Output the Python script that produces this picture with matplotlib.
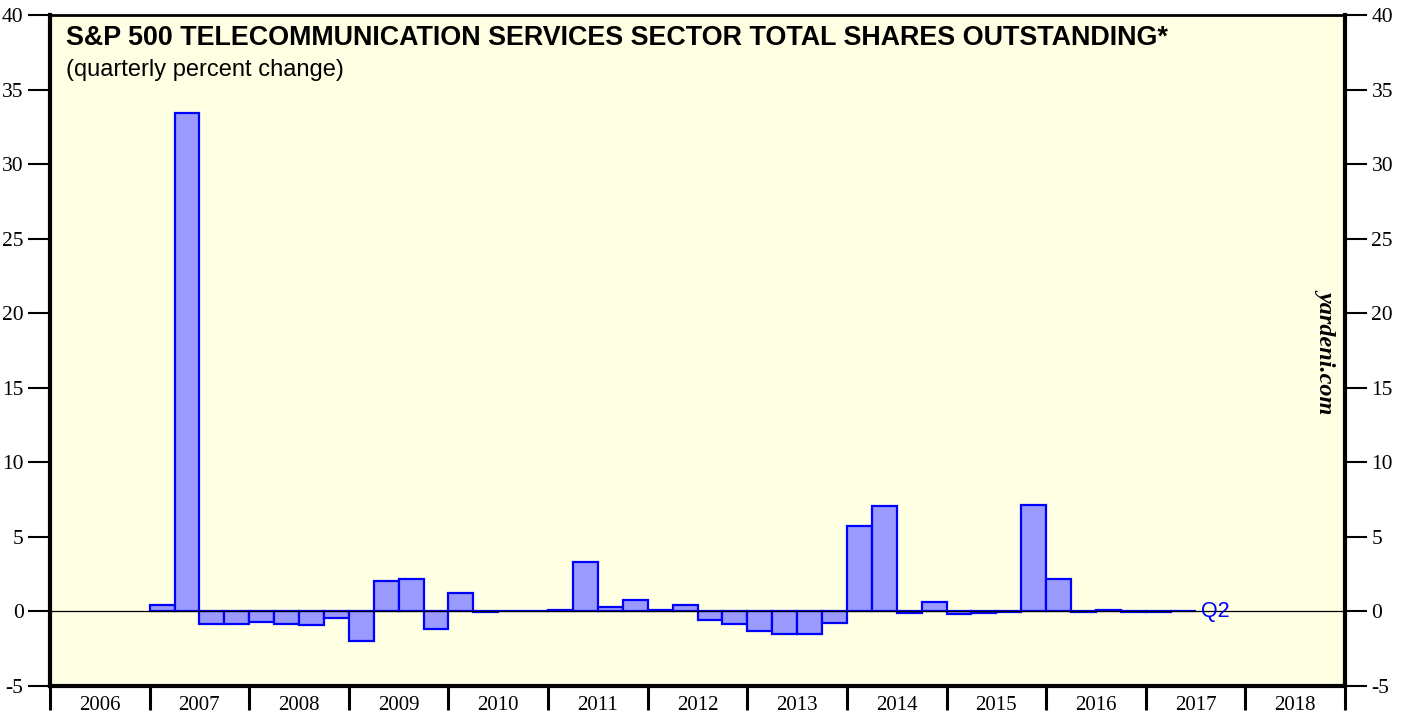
import numpy as np
import matplotlib

matplotlib.use("Agg")
import matplotlib.pyplot as plt

# quarterly percent change, 2007Q1 .. 2017Q2
start_year = 2007
pct_change = [
    0.4, 33.4, -0.85, -0.85,      # 2007
    -0.7, -0.85, -0.9, -0.45,     # 2008
    -1.95, 2.05, 2.2, -1.2,       # 2009
    1.25, -0.05, 0.05, 0.05,      # 2010
    0.1, 3.3, 0.3, 0.75,          # 2011
    0.07, 0.43, -0.55, -0.85,     # 2012
    -1.3, -1.5, -1.5, -0.75,      # 2013
    5.7, 7.1, -0.1, 0.6,          # 2014
    -0.18, -0.13, -0.03, 7.15,    # 2015
    2.2, -0.05, 0.07, -0.02,      # 2016
    -0.02, 0.06,                  # 2017
]
year_labels = [str(y) for y in range(2006, 2019)]
y_ticks = [-5, 0, 5, 10, 15, 20, 25, 30, 35, 40]

BG = "#ffffe3"
FILL = "#9b9bff"
EDGE = "#0000ff"
SERIF = ["Liberation Serif", "DejaVu Serif"]
SANS = ["Liberation Sans", "DejaVu Sans"]

fig = plt.figure(figsize=(14.05, 7.17), dpi=100)
ax = fig.add_axes([50 / 1405, 31 / 717, 1295 / 1405, 671 / 717])
ax.set_facecolor(BG)

x = start_year + np.arange(len(pct_change)) * 0.25
ax.bar(x, pct_change, width=0.25, align="edge", color=FILL,
       edgecolor=EDGE, linewidth=1.6, zorder=2)
ax.axhline(0, color="black", lw=0.9, zorder=3)

ax.set_xlim(2006, 2019)
ax.set_ylim(-5, 40)

# x axis: year boundaries as ticks, labels centred in each year
ax.set_xticks(range(2006, 2020))
ax.set_xticklabels([])
ax.set_xticks([y + 0.5 for y in range(2006, 2019)], minor=True)
ax.set_xticklabels(year_labels, minor=True, fontsize=15, family=SERIF)
ax.tick_params(axis="x", which="major", direction="out", length=17, width=2.2)
ax.tick_params(axis="x", which="minor", length=0, pad=7)

ax.set_yticks(y_ticks)
ax.set_yticklabels([str(v) for v in y_ticks], family=SERIF, fontsize=15.5)
ax.tick_params(axis="y", which="both", direction="out", length=16, width=1.5,
               left=True, right=True, labelleft=True, labelright=True, pad=3)

for side in ["left", "right", "bottom"]:
    ax.spines[side].set_linewidth(3)
ax.spines["top"].set_linewidth(2)

ax.text(0.012, 0.985, "S&P 500 TELECOMMUNICATION SERVICES SECTOR TOTAL SHARES OUTSTANDING*",
        transform=ax.transAxes, fontsize=19.4, fontweight="bold", family=SANS,
        va="top", ha="left")
ax.text(0.012, 0.935, "(quarterly percent change)", transform=ax.transAxes,
        fontsize=17, family=SANS, va="top", ha="left")

ax.text(x[-1] + 0.3, 0, "Q2", color=EDGE, fontsize=15.5, family=SANS,
        va="center", ha="left", zorder=4)

ax.text(0.986, 0.5, "yardeni.com", transform=ax.transAxes, rotation=-90,
        fontsize=17.5, fontweight="bold", fontstyle="italic", family=SERIF,
        va="center", ha="center")

fig.savefig("out.png", dpi=100, facecolor="white")
